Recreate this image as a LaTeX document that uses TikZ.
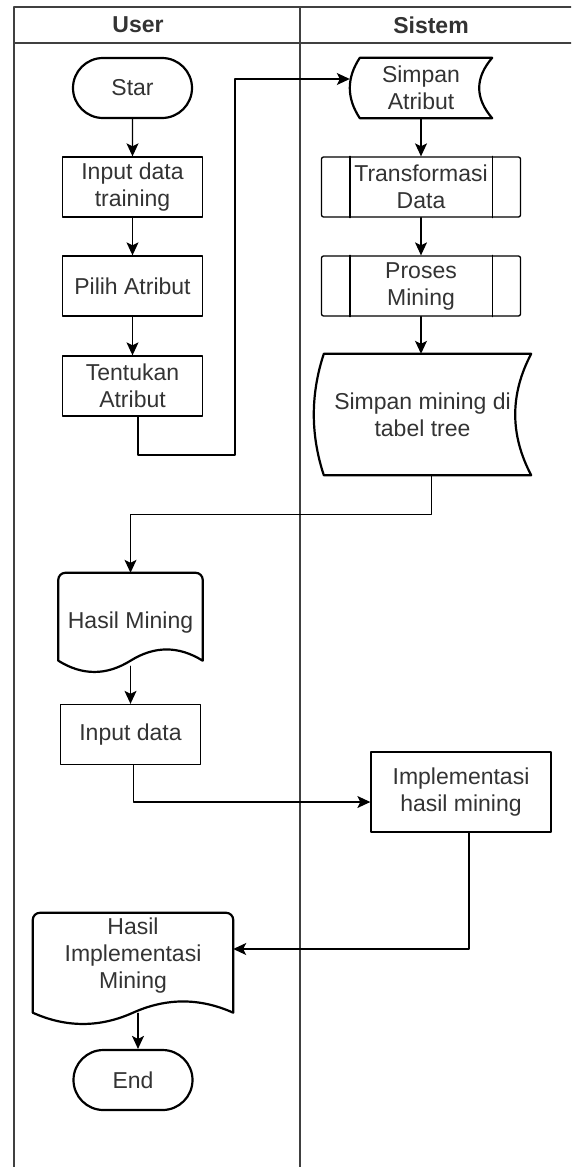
\documentclass[tikz,border=0pt]{standalone}
\usepackage{fontspec}
\setmainfont{Liberation Sans}
\usepackage{xcolor}
\usepackage{tikz}
\usetikzlibrary{arrows.meta,shapes.misc,calc}

\begin{document}
\begin{tikzpicture}[line cap=round,line join=round,>={Stealth[length=13pt,width=12pt,inset=3pt]},x=1pt,y=1pt,
    every node/.style={font=\fontsize{23}{27}\selectfont,text=black!80,align=center,inner sep=1pt},
    lane/.style={line width=1.4pt,black!75},
    box/.style={draw,line width=1.3pt,minimum width=140,minimum height=60},
    terminal/.style={draw,rounded rectangle,line width=2.2pt,minimum width=121,minimum height=60},
    predef/.style={draw,rounded corners=2pt,line width=1.3pt,minimum width=199,minimum height=60},
    heavy/.style={line width=2.2pt},
    flow/.style={->,line width=1.3pt}]
    \useasboundingbox (0,0) rectangle (571,-1167);
    \clip (0,0) rectangle (571,-1167);
    % swimlanes
    \draw[lane] (14,-1180) -- (14,-7) -- (590,-7);
    \draw[lane] (14,-43) -- (590,-43);
    \draw[lane] (300,-7) -- (300,-1180);
    \node[font=\fontsize{23}{27}\selectfont\bfseries] (userHead) at (138,-25) {User};
    \node[font=\fontsize{23}{27}\selectfont\bfseries] (sistemHead) at (431,-25) {Sistem};
    % user lane
    \node[terminal] (star) at (132.5,-88) {Star};
    \node[box] (inputTrain) at (132.5,-187) {Input data\\training};
    \node[box] (pilih) at (132.5,-286) {Pilih Atribut};
    \node[box] (tentukan) at (132.5,-386) {Tentukan\\Atribut};
    \node[minimum width=144,minimum height=100] (hasilMining) at (130.5,-623) {Hasil Mining};
    \node[box] (inputData) at (130.5,-734.5) {Input data};
    \node[minimum width=200,minimum height=86] (hasilImpl) at (133,-956) {Hasil\\Implementasi\\Mining};
    \node[terminal] (end) at (133,-1080) {End};
    % sistem lane
    \node[minimum width=142,minimum height=60] (simpanAtr) at (421,-88) {Simpan\\Atribut};
    \node[predef] (transform) at (421,-187) {Transformasi\\Data};
    \node[predef] (proses) at (421,-286) {Proses\\Mining};
    \node[minimum width=217,minimum height=121] (simpanTree) at (422.5,-414.5) {Simpan mining di\\tabel tree};
    \node[box,minimum width=180,minimum height=80] (impl) at (461,-792) {Implementasi\\hasil mining};
    % outlines of stored data
    \foreach \st/\lft/\rgt in {simpanAtr/10/13,simpanTree/10/16}
      \draw[heavy] let \p1=(\st.south west), \p2=(\st.north east) in
        ({\x1+\lft*1pt},\y2) -- (\x2,\y2)
        .. controls ({\x2-\rgt*4/3*1pt},{\y2-(\y2-\y1)/3}) and ({\x2-\rgt*4/3*1pt},{\y1+(\y2-\y1)/3}) .. (\x2,\y1)
        -- ({\x1+\lft*1pt},\y1)
        .. controls ({\x1-\lft/3*1pt},{\y1+(\y2-\y1)/3}) and ({\x1-\lft/3*1pt},{\y2-(\y2-\y1)/3}) .. cycle;
    % outlines of documents
    \foreach \dc/\ex in {hasilMining/0,hasilImpl/26}
      \draw[heavy] let \p1=(\dc.south west), \p2=(\dc.north east) in
        (\x1,{\y1-\ex*1pt+12.5pt}) -- (\x1,{\y2-7pt}) arc[start angle=180,end angle=90,radius=7pt]
        -- ({\x2-7pt},\y2) arc[start angle=90,end angle=0,radius=7pt]
        -- (\x2,{\y1-\ex*1pt+12.5pt})
        .. controls ({\x2-(\x2-\x1)/6},{\y1-\ex*1pt+27.5pt}) and ({(\x1+\x2)/2+(\x2-\x1)/6},{\y1-\ex*1pt+27.5pt}) .. ({(\x1+\x2)/2},{\y1-\ex*1pt+12.5pt})
        .. controls ({(\x1+\x2)/2-(\x2-\x1)/6},{\y1-\ex*1pt-2.5pt}) and ({\x1+(\x2-\x1)/6},{\y1-\ex*1pt-2.5pt}) .. (\x1,{\y1-\ex*1pt+12.5pt})
        -- cycle;
    % inner bars of predefined process
    \foreach \pp in {transform,proses}{
      \draw[line width=1.3pt] ([xshift=29]\pp.north west) -- ([xshift=29]\pp.south west);
      \draw[line width=1.3pt] ([xshift=-29]\pp.north east) -- ([xshift=-29]\pp.south east);
    }
    % connectors
    \coordinate (bendA) at (235,-455);
    \draw[flow] (star) -- (inputTrain);
    \draw[flow] (inputTrain) -- (pilih);
    \draw[flow] (pilih) -- (tentukan);
    \draw[flow] ([xshift=5.5]tentukan.south) |- (bendA) |- ([yshift=9]simpanAtr.west);
    \draw[flow] (simpanAtr.south) -- (transform.north);
    \draw[flow] (transform) -- (proses);
    \draw[flow] (proses.south) -- (proses.south |- simpanTree.north);
    \draw[flow] ([xshift=9]simpanTree.south) -- ++(0,-39) -| (hasilMining.north);
    \draw[flow] ([yshift=7]hasilMining.south) -- (inputData.north);
    \draw[flow] ([xshift=3]inputData.south) |- ([yshift=-10]impl.west);
    \draw[flow] ([xshift=8]impl.south) |- ([yshift=7]hasilImpl.east);
    \draw[flow] ([xshift=5,yshift=-14]hasilImpl.south) -- ([xshift=5]end.north);
\end{tikzpicture}
\end{document}
